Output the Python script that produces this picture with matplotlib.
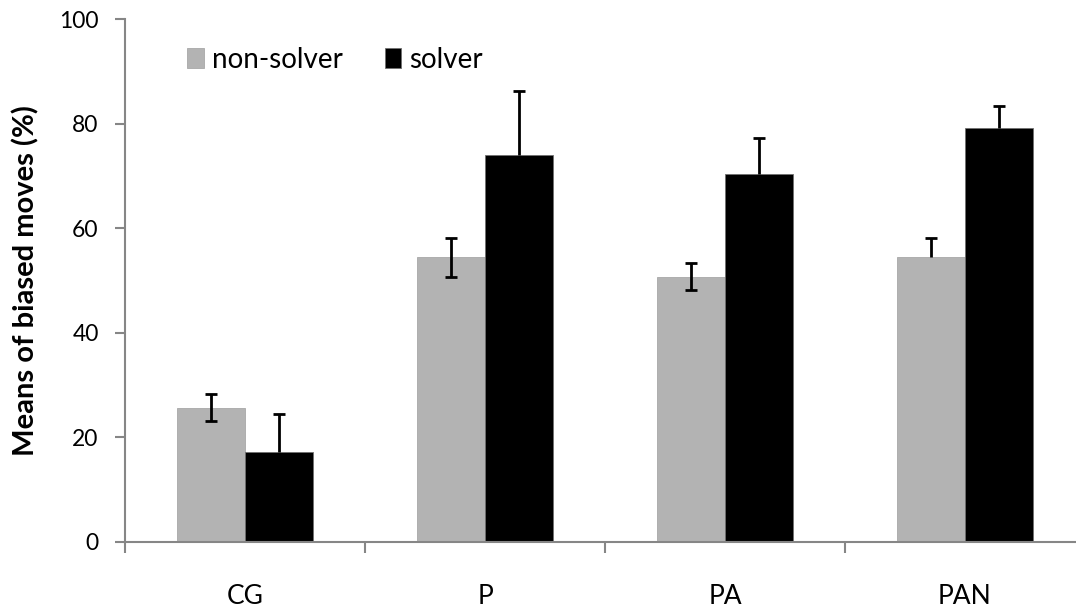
import matplotlib
matplotlib.use("Agg")
import matplotlib.pyplot as plt
import numpy as np

categories = ["CG", "P", "PA", "PAN"]
non_solver = [25.7, 54.4, 50.7, 54.5]
solver = [17.3, 74.0, 70.4, 79.2]
non_solver_err_lo = [2.6, 3.8, 2.6, 0.0]
non_solver_err_hi = [2.6, 3.8, 2.6, 3.7]
solver_err_lo = [0.0, 0.0, 0.0, 0.0]
solver_err_hi = [7.1, 12.3, 6.8, 4.2]
y_ticks = [0, 20, 40, 60, 80, 100]

plt.rcParams["font.family"] = ["Lato", "DejaVu Sans"]

fig = plt.figure(figsize=(10.76, 6.15), dpi=100)
ax = fig.add_axes([125 / 1076, 73 / 615, 960 / 1076, 523 / 615])

x = np.arange(len(categories))
w = 0.285
axis_grey = "#868686"
cap_half = 0.024

ax.bar(x - w / 2, non_solver, w, color="#b3b3b3", edgecolor="#a8a8a8",
       linewidth=0.6, label="non-solver", zorder=2)
ax.bar(x + w / 2, solver, w, color="black", edgecolor="#707070",
       linewidth=0.6, label="solver", zorder=2)


def draw_errors(xs, ys, lo, hi):
    ys, lo, hi = np.asarray(ys), np.asarray(lo), np.asarray(hi)
    ax.vlines(xs, ys - lo, ys + hi, color="black", lw=2, zorder=3)
    ax.hlines(ys + hi, xs - cap_half, xs + cap_half, color="black", lw=2, zorder=3)
    m = lo > 0
    ax.hlines((ys - lo)[m], (xs - cap_half)[m], (xs + cap_half)[m],
              color="black", lw=2, zorder=3)


draw_errors(x - w / 2, non_solver, non_solver_err_lo, non_solver_err_hi)
draw_errors(x + w / 2, solver, solver_err_lo, solver_err_hi)

ax.set_xlim(-0.5, len(categories) - 0.5)
ax.set_ylim(0, 100)
ax.set_yticks(y_ticks)
ax.set_yticklabels([str(t) for t in y_ticks], fontsize=16.5)

# category labels under bars, tick marks at category boundaries
ax.set_xticks(np.arange(len(categories) + 1) - 0.5)
ax.set_xticklabels([])
ax.set_xticks(x, minor=True)
ax.set_xticklabels(categories, minor=True, fontsize=19)
ax.tick_params(axis="x", which="minor", length=0, pad=30)
ax.tick_params(axis="x", which="major", length=8, width=1.5, color=axis_grey, direction="out")
ax.tick_params(axis="y", length=7, width=1.5, color=axis_grey, pad=12)

for side in ["top", "right"]:
    ax.spines[side].set_visible(False)
for side in ["left", "bottom"]:
    ax.spines[side].set_color(axis_grey)
    ax.spines[side].set_linewidth(1.5)

ax.set_ylabel("Means of biased moves (%)", fontsize=21, fontweight="bold", labelpad=14)

ax.legend(loc="upper left", bbox_to_anchor=(187 / 1076, 1 - 47 / 615),
          bbox_transform=fig.transFigure, ncol=2, frameon=False, fontsize=20,
          handlelength=0.6, handleheight=0.75, handletextpad=0.3,
          columnspacing=1.5, borderaxespad=0, borderpad=0)

fig.savefig("out.png", dpi=100)
